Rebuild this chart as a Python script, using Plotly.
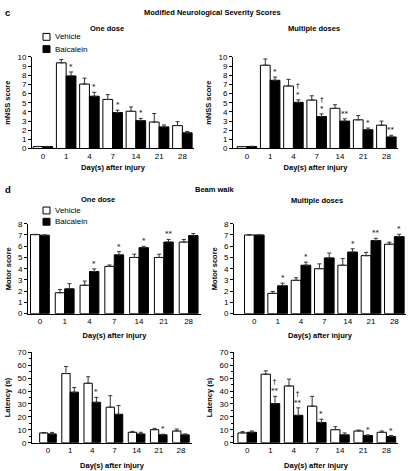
import plotly.graph_objects as go

W, H = 410, 471

days = ["0", "1", "4", "7", "14", "21", "28"]

# ---- c: mNSS, one dose ----
mnss_one_veh = [0.21, 9.36, 7.04, 5.36, 4.07, 2.89, 2.50]
mnss_one_veh_sem = [0.02, 0.35, 0.64, 0.53, 0.47, 0.93, 0.43]
mnss_one_bai = [0.21, 7.93, 5.71, 3.93, 3.04, 2.36, 1.71]
mnss_one_bai_sem = [0.02, 0.43, 0.43, 0.25, 0.25, 0.21, 0.15]
mnss_one_sig = ["", "*", "*", "*", "*", "", ""]

# ---- c: mNSS, multiple doses ----
mnss_multi_veh = [0.20, 9.10, 6.83, 5.29, 4.39, 3.13, 2.55]
mnss_multi_veh_sem = [0.02, 0.68, 0.72, 0.47, 0.39, 0.47, 0.44]
mnss_multi_bai = [0.22, 7.45, 5.04, 3.49, 2.99, 2.05, 1.26]
mnss_multi_bai_sem = [0.02, 0.35, 0.28, 0.29, 0.25, 0.18, 0.18]
mnss_multi_sig = ["", "*", "†<br>*", "†<br>*", "**", "*", "**"]

# ---- d: beam walk motor score, one dose ----
motor_one_veh = [7.03, 1.86, 2.53, 4.21, 5.00, 5.00, 6.37]
motor_one_veh_sem = [0.03, 0.29, 0.37, 0.12, 0.29, 0.29, 0.23]
motor_one_bai = [6.98, 2.21, 3.75, 5.23, 5.87, 6.37, 6.95]
motor_one_bai_sem = [0.02, 0.46, 0.23, 0.29, 0.12, 0.23, 0.17]
motor_one_sig = ["", "", "*", "*", "*", "**", ""]

# ---- d: beam walk motor score, multiple doses ----
motor_multi_veh = [7.00, 1.81, 2.97, 4.00, 4.31, 5.16, 6.18]
motor_multi_veh_sem = [0.0, 0.17, 0.23, 0.43, 0.59, 0.29, 0.18]
motor_multi_bai = [7.00, 2.48, 4.31, 4.96, 5.48, 6.50, 6.85]
motor_multi_bai_sem = [0.0, 0.23, 0.27, 0.43, 0.29, 0.20, 0.21]
motor_multi_sig = ["", "*", "*", "", "*", "**", "*"]

# ---- d: beam walk latency, one dose ----
lat_one_veh = [7.6, 53.5, 46.0, 27.5, 8.1, 10.1, 9.1]
lat_one_veh_sem = [0.3, 5.5, 5.0, 8.9, 0.7, 1.0, 1.5]
lat_one_bai = [6.8, 39.1, 31.3, 22.0, 6.8, 6.1, 6.1]
lat_one_bai_sem = [1.2, 3.6, 3.8, 6.8, 1.3, 0.5, 0.7]
lat_one_sig = ["", "", "*", "", "", "*", ""]

# ---- d: beam walk latency, multiple doses ----
lat_multi_veh = [7.6, 53.0, 43.9, 28.3, 10.1, 9.1, 8.1]
lat_multi_veh_sem = [1.0, 2.6, 5.3, 7.6, 2.3, 0.7, 1.0]
lat_multi_bai = [8.1, 30.3, 21.2, 15.7, 6.1, 5.6, 4.8]
lat_multi_bai_sem = [1.0, 5.6, 5.8, 2.5, 1.5, 0.5, 0.8]
lat_multi_sig = ["", "†<br>**", "†<br>**", "*", "", "*", "*"]

FONT = "Liberation Sans, Arial, sans-serif"

fig = go.Figure()

def px_dom_x(a, b):
    return [a / W, b / W]

def px_dom_y(top, bottom):
    return [1 - bottom / H, 1 - top / H]

panels = [
    (mnss_one_veh, mnss_one_veh_sem, mnss_one_bai, mnss_one_bai_sem, mnss_one_sig,
     (32, 194), (54, 147.3), -0.47, [0, 10], 1, 0.42, "mNSS score", False, 4),
    (mnss_multi_veh, mnss_multi_veh_sem, mnss_multi_bai, mnss_multi_bai_sem, mnss_multi_sig,
     (233, 398), (54, 147.3), -0.60, [0, 10], 1, 0.42, "mNSS score", False, 4),
    (motor_one_veh, motor_one_veh_sem, motor_one_bai, motor_one_bai_sem, motor_one_sig,
     (28, 201), (224, 315.7), -0.48, [0, 8], 1, 0.38, "Motor score", False, 7),
    (motor_multi_veh, motor_multi_veh_sem, motor_multi_bai, motor_multi_bai_sem, motor_multi_sig,
     (234, 406), (224, 315.7), -0.87, [0, 8], 1, 0.42, "Motor score", False, 7),
    (lat_one_veh, lat_one_veh_sem, lat_one_bai, lat_one_bai_sem, lat_one_sig,
     (32, 192), (355, 447.3), -0.72, [0, 70], 10, 0.375, "Latency (s)", True, 8),
    (lat_multi_veh, lat_multi_veh_sem, lat_multi_bai, lat_multi_bai_sem, lat_multi_sig,
     (234, 398), (355, 447.3), -0.57, [0, 70], 10, 0.40, "Latency (s)", True, 8),
]

annotations = []
layout_axes = {}
idx = list(range(len(days)))

for k, (veh, vsem, bai, bsem, sig, xd, yd, xmin, yr, dt, bw, ytitle, minor, xstand) in enumerate(panels, start=1):
    xa = "x" if k == 1 else f"x{k}"
    ya = "y" if k == 1 else f"y{k}"
    err_style = dict(type="data", symmetric=False, thickness=1, width=2, color="#333333")
    fig.add_trace(go.Bar(
        x=idx, y=veh, offset=-bw, width=bw, name="Vehicle",
        marker=dict(color="white", line=dict(color="black", width=1)),
        error_y=dict(array=vsem, arrayminus=[0] * len(veh), **err_style),
        xaxis=xa, yaxis=ya, showlegend=False,
    ))
    fig.add_trace(go.Bar(
        x=idx, y=bai, offset=0, width=bw, name="Baicalein",
        marker=dict(color="black", line=dict(color="black", width=1)),
        error_y=dict(array=bsem, arrayminus=[0] * len(bai), **err_style),
        xaxis=xa, yaxis=ya, showlegend=False,
    ))
    for i, s in enumerate(sig):
        if s:
            annotations.append(dict(
                x=i + bw / 2, y=bai[i] + bsem[i], xref=xa, yref=ya,
                text=s, showarrow=False, yanchor="bottom", yshift=-1,
                font=dict(size=7, family="DejaVu Sans, " + FONT, color="black"),
            ))
    xkey = "xaxis" if k == 1 else f"xaxis{k}"
    ykey = "yaxis" if k == 1 else f"yaxis{k}"
    layout_axes[xkey] = dict(
        domain=px_dom_x(*xd), anchor=ya, range=[xmin, 6.5],
        tickmode="array", tickvals=idx, ticktext=days,
        showline=True, linecolor="black", linewidth=1, ticks="",
        showgrid=False, zeroline=False, fixedrange=True,
        tickfont=dict(size=8, family=FONT, color="black"),
        title=dict(text="<b>Day(s) after injury</b>", standoff=xstand,
                   font=dict(size=7.5, family=FONT, color="black")),
    )
    yax = dict(
        domain=px_dom_y(*yd), anchor=xa, range=yr, dtick=dt,
        showline=True, linecolor="black", linewidth=1,
        ticks="outside", ticklen=3, tickwidth=1, tickcolor="black",
        showgrid=False, zeroline=False, fixedrange=True,
        tickfont=dict(size=8, family=FONT, color="black"),
        title=dict(text=f"<b>{ytitle}</b>", standoff=5,
                   font=dict(size=7.5, family=FONT, color="black")),
    )
    if minor:
        yax["minor"] = dict(dtick=5, ticks="outside", ticklen=2, tickcolor="black")
    layout_axes[ykey] = yax

def ptext(text, xp, yp, size=7.5, bold=True, xanchor="center"):
    annotations.append(dict(
        x=xp / W, y=1 - yp / H, xref="paper", yref="paper",
        text=f"<b>{text}</b>" if bold else text, showarrow=False,
        xanchor=xanchor, yanchor="middle",
        font=dict(size=size, family=FONT, color="black"),
    ))

ptext("c", 3, 9, size=9.5, xanchor="left")
ptext("Modified Neurological Severity Scores", 212, 9)
ptext("One dose", 107, 25)
ptext("Multiple doses", 314, 25)
ptext("d", 3, 189, size=9.5, xanchor="left")
ptext("Beam walk", 215, 189)
ptext("One dose", 98, 199)
ptext("Multiple doses", 317, 200)

shapes = []
def legend(y1, y2):
    for yc, fill, label in [(y1, "white", "Vehicle"), (y2, "black", "Baicalein")]:
        shapes.append(dict(type="rect", xref="paper", yref="paper",
                           x0=43 / W, x1=50 / W, y0=1 - (yc + 3.5) / H, y1=1 - (yc - 3.5) / H,
                           fillcolor=fill, line=dict(color="black", width=1)))
        ptext(label, 53, yc, size=8, bold=False, xanchor="left")

legend(33.5, 46)
legend(210.5, 222)

fig.update_layout(
    width=W, height=H, margin=dict(l=0, r=0, t=0, b=0),
    paper_bgcolor="white", plot_bgcolor="white",
    barmode="overlay", showlegend=False,
    font=dict(family=FONT, color="black"),
    annotations=annotations, shapes=shapes,
    **layout_axes,
)

fig.write_html(
    "out.html",
    config={"displayModeBar": False, "staticPlot": True},
    post_script="document.body.style.margin='0';document.body.style.overflow='hidden';",
)
